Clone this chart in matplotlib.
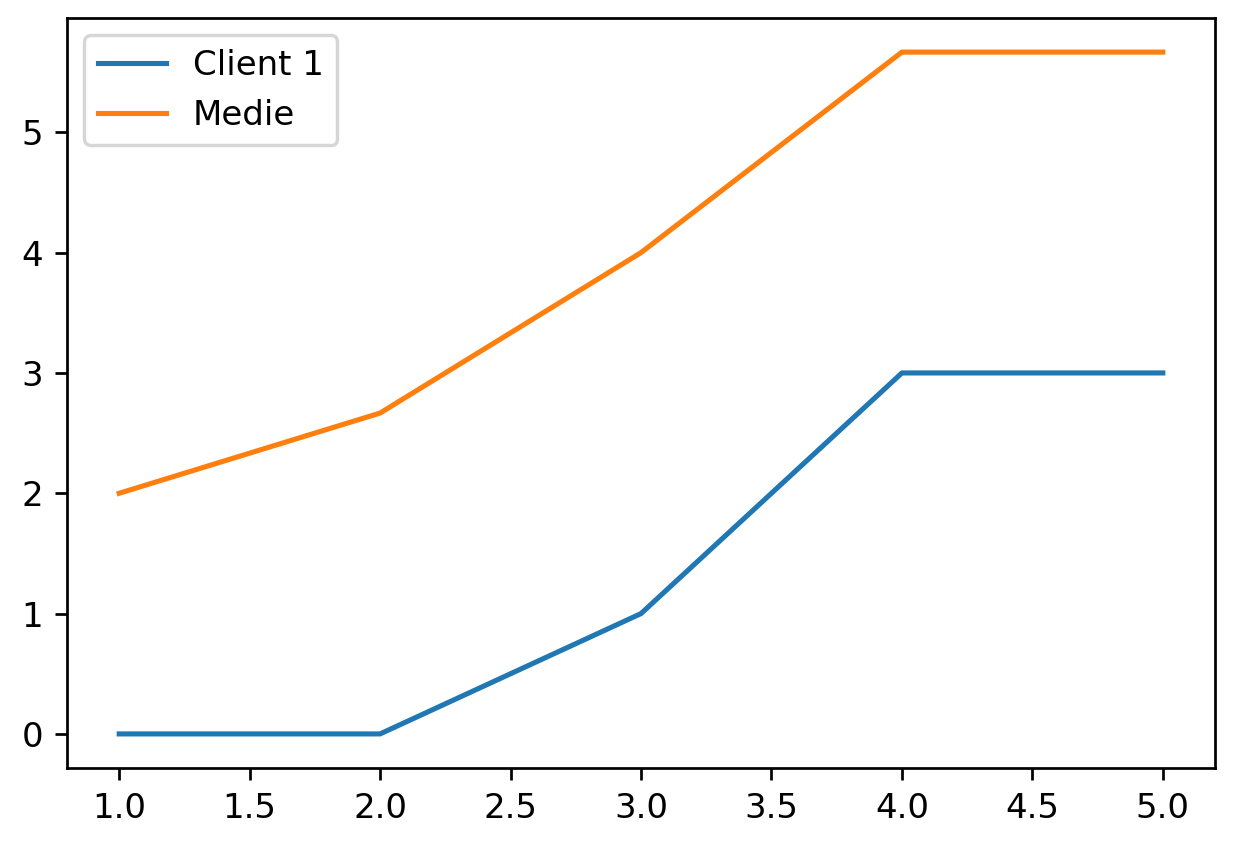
import matplotlib
matplotlib.use("Agg")
import matplotlib.pyplot as plt

x_values = [1, 2, 3, 4, 5]
client_1 = [0, 0, 1, 3, 3]
medie = [2, 8 / 3, 4, 17 / 3, 17 / 3]

dpi = 245
fig = plt.figure(figsize=(1238 / dpi, 848 / dpi), dpi=dpi)
ax = fig.add_axes([67 / 1238, 1 - 768 / 848, (1215 - 67) / 1238, (768 - 18) / 848])

ax.plot(x_values, client_1, label="Client 1")
ax.plot(x_values, medie, label="Medie")
ax.legend(loc="upper left")

fig.savefig("out.png", dpi=dpi)
